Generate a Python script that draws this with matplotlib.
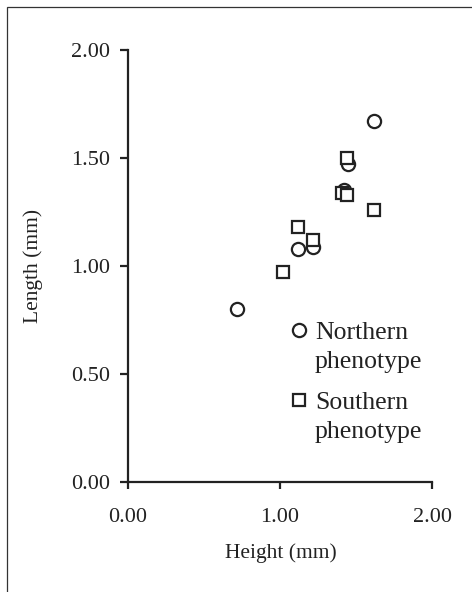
import matplotlib
matplotlib.use("Agg")
import matplotlib.pyplot as plt
from matplotlib.patches import Rectangle

# data
north_height = [0.72, 1.12, 1.22, 1.42, 1.45, 1.62]
north_length = [0.80, 1.08, 1.09, 1.35, 1.47, 1.67]
south_height = [1.02, 1.12, 1.22, 1.41, 1.44, 1.44, 1.62]
south_length = [0.97, 1.18, 1.12, 1.34, 1.33, 1.50, 1.26]
ticks = [0.0, 0.5, 1.0, 1.5, 2.0]
xticks = [0.0, 1.0, 2.0]

plt.rcParams['font.family'] = ['Liberation Serif', 'DejaVu Serif']
plt.rcParams['text.color'] = '#222222'

fig = plt.figure(figsize=(4.72, 5.92), dpi=100)
ax = fig.add_axes([128 / 472, 110 / 592, 304 / 472, 432 / 592])

ink = '#222222'
ax.plot(north_height, north_length, 'o', ms=9.5, mfc='white', mec=ink, mew=1.6,
        linestyle='none', zorder=3)
ax.plot(south_height, south_length, 's', ms=9, mfc='white', mec=ink, mew=1.6,
        linestyle='none', zorder=4)

ax.set_xlim(0, 2)
ax.set_ylim(0, 2)
ax.set_xticks(xticks)
ax.set_yticks(ticks)
ax.set_xticklabels(['%.2f' % t for t in xticks])
ax.set_yticklabels(['%.2f' % t for t in ticks])
for s in ['top', 'right']:
    ax.spines[s].set_visible(False)
for s in ['left', 'bottom']:
    ax.spines[s].set_linewidth(1.6)
    ax.spines[s].set_color(ink)
ax.tick_params(axis='both', colors=ink, labelsize=16, width=1.6)
ax.tick_params(axis='y', length=6, pad=7)
ax.tick_params(axis='x', length=5, pad=14)

fig.text(281 / 472, 1 - 553 / 592, 'Height (mm)', ha='center', va='center', fontsize=15.5)
fig.text(33 / 472, 1 - 266 / 592, 'Length (mm)', ha='center', va='center',
         rotation=90, fontsize=15.5)

# legend
lx, tx = 0.5625, 0.615
ax.plot([lx], [0.352], 'o', ms=9.5, mfc='white', mec=ink, mew=1.6, transform=ax.transAxes)
ax.plot([lx], [0.190], 's', ms=9, mfc='white', mec=ink, mew=1.6, transform=ax.transAxes)
for y, s in [(0.331, 'Northern'), (0.264, 'phenotype'), (0.169, 'Southern'), (0.102, 'phenotype')]:
    ax.text(tx, y, s, transform=ax.transAxes, fontsize=18.5, va='baseline', ha='left')

# outer frame
fig.patches.append(Rectangle((7 / 472, -0.2), 1.2, 1.2 - 6.5 / 592, transform=fig.transFigure,
                             fill=False, edgecolor='#333333', linewidth=0.9))

fig.savefig('out.png', dpi=100)
